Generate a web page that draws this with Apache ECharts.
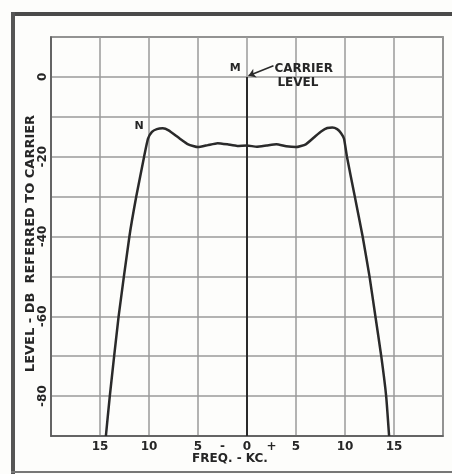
<!DOCTYPE html>
<html>
<head>
<meta charset="utf-8">
<script src="https://cdn.jsdelivr.net/npm/echarts@6/dist/echarts.min.js"></script>
<style>
html, body { margin: 0; padding: 0; background: #fdfdfb; }
#chart { width: 452px; height: 474px; }
</style>
</head>
<body>
<div id="chart"></div>
<script>
// frequency (kc) of the response curve points
var freqArr = [-14.4, -14.0, -13.1, -12.0, -11.3, -10.5, -10.1, -9.7, -9.2, -8.6, -8.0, -7.0, -6.0, -5.0, -4.0, -3.0, -2.0, -1.0, 0,
	1.0, 2.0, 3.0, 4.0, 5.0, 6.0, 7.0, 7.6, 8.2, 8.7, 9.2, 9.6, 9.9, 10.2, 11.0, 11.8, 12.5, 13.1, 13.7, 14.2, 14.5];
// level in db referred to carrier
var levelArr = [-90, -80, -60, -40, -30, -20, -15.5, -13.8, -13.1, -12.9, -13.4, -15.2, -16.9, -17.6, -17.1, -16.6, -16.9, -17.3, -17.2,
	-17.5, -17.2, -16.9, -17.4, -17.6, -16.9, -14.8, -13.6, -12.8, -12.7, -13.1, -14.1, -15.5, -20, -30, -40, -50, -60, -70, -80, -90];
// carrier line (x, level)
var carrierArr = [[0, 0], [0, -90]];
// y tick labels shown
var yLabelArr = [0, -20, -40, -60, -80];
// x tick labels shown (absolute values)
var xLabelArr = [-15, -10, -5, 0, 5, 10, 15];

var curveData = [];
for (var i = 0; i < freqArr.length; i++) {
	curveData.push([freqArr[i], levelArr[i]]);
}

var font = 'DejaVu Sans';
var ink = '#262626';

var chart = echarts.init(document.getElementById('chart'));
var option = {
	backgroundColor: '#fdfdfb',
	animation: false,
	grid: {
		left: 51,
		right: 9,
		top: 37,
		bottom: 38,
		show: true,
		borderColor: '#555',
		borderWidth: 1.5
	},
	xAxis: [{
		type: 'value',
		min: -20,
		max: 20,
		interval: 5,
		name: 'FREQ. - KC.',
		nameLocation: 'middle',
		nameGap: 17,
		nameMoveOverlap: false,
		nameTextStyle: {
			fontFamily: font, fontWeight: 'bold', fontSize: 12, color: ink,
			padding: [0, 34, 0, 0]
		},
		axisLine: { show: true, onZero: false, lineStyle: { color: '#555', width: 1.5 } },
		axisTick: { show: false },
		splitLine: { show: true, lineStyle: { color: '#9a9a9a', width: 1.5 } },
		axisLabel: {
			margin: 5,
			fontFamily: font, fontWeight: 'bold', fontSize: 12, color: ink,
			formatter: function (v) {
				return xLabelArr.indexOf(v) >= 0 ? String(Math.abs(v)) : '';
			}
		}
	}, {
		// the - and + signs around zero
		type: 'value',
		position: 'bottom',
		min: -20,
		max: 20,
		interval: 2.5,
		axisLine: { show: false, onZero: false },
		axisTick: { show: false },
		splitLine: { show: false },
		axisLabel: {
			margin: 5,
			fontFamily: font, fontWeight: 'bold', fontSize: 12, color: ink,
			formatter: function (v) {
				if (v === -2.5) return '-';
				if (v === 2.5) return '+';
				return '';
			}
		}
	}],
	yAxis: {
		type: 'value',
		min: -90,
		max: 10,
		interval: 10,
		name: 'LEVEL - DB  REFERRED TO CARRIER',
		nameLocation: 'middle',
		nameGap: 14,
		nameMoveOverlap: false,
		nameTextStyle: {
			fontFamily: font, fontWeight: 'bold', fontSize: 13, color: ink,
			padding: [0, 14, 0, 0]
		},
		axisLine: { show: true, onZero: false, lineStyle: { color: '#555', width: 1.5 } },
		axisTick: { show: false },
		splitLine: { show: true, lineStyle: { color: '#9a9a9a', width: 1.5 } },
		axisLabel: {
			rotate: 90,
			margin: 2,
			fontFamily: font, fontWeight: 'bold', fontSize: 12, color: ink,
			formatter: function (v) {
				return yLabelArr.indexOf(v) >= 0 ? String(v) : '';
			}
		}
	},
	graphic: [
		{ type: 'rect', shape: { x: 11, y: 12, width: 441, height: 4 }, style: { fill: '#4a4a4a' } },
		{ type: 'rect', shape: { x: 11, y: 12, width: 4, height: 462 }, style: { fill: '#555' } },
		{ type: 'rect', shape: { x: 11, y: 471, width: 441, height: 2 }, style: { fill: '#777' } }
	],
	series: [{
		name: 'response',
		type: 'line',
		smooth: 0.15,
		showSymbol: false,
		data: curveData,
		lineStyle: { color: '#2a2a2a', width: 2.5 },
		markPoint: {
			symbol: 'circle',
			symbolSize: 0,
			label: {
				show: true,
				fontFamily: font, fontWeight: 'bold', fontSize: 11, color: ink,
				formatter: '{b}'
			},
			data: [
				{ name: 'N', coord: [-11.0, -12.4] },
				{ name: 'M', coord: [-1.2, 2.1] },
				{ name: 'CARRIER', coord: [2.8, 2.1], label: { align: 'left', fontSize: 12 } },
				{ name: 'LEVEL', coord: [3.1, -1.4], label: { align: 'left', fontSize: 12 } }
			]
		}
	}, {
		name: 'carrier',
		type: 'line',
		showSymbol: false,
		data: carrierArr,
		lineStyle: { color: '#2a2a2a', width: 2 },
		markLine: {
			silent: true,
			symbol: ['none', 'arrow'],
			symbolSize: 7,
			label: { show: false },
			lineStyle: { color: '#2a2a2a', width: 1.5, type: 'solid' },
			data: [[{ coord: [2.7, 2.8] }, { coord: [0.15, 0.3] }]]
		}
	}]
};
chart.setOption(option);
</script>
</body>
</html>
